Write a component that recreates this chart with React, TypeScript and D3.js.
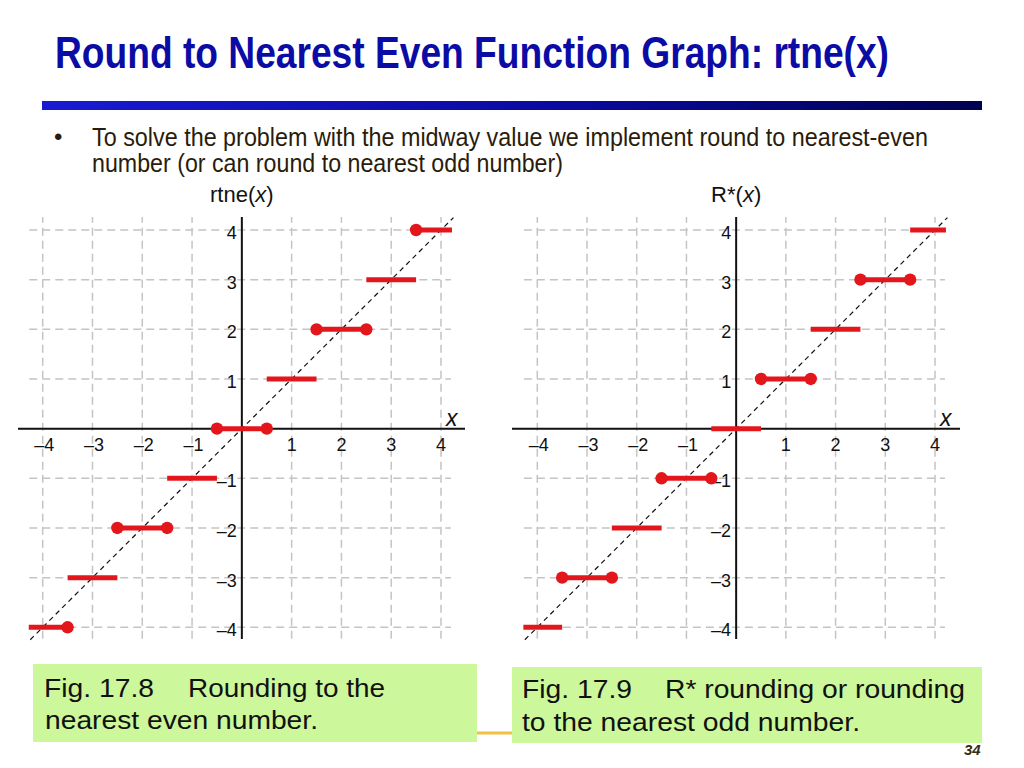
import React from "react";
import * as d3 from "d3";

// ---- data ----
const ticks = [-4, -3, -2, -1, 1, 2, 3, 4];
const gridValues = [-4, -3, -2, -1, 1, 2, 3, 4];
const stepLevels = [-4, -3, -2, -1, 0, 1, 2, 3, 4];
const stepStarts = [-4.28, -3.5, -2.5, -1.5, -0.5, 0.5, 1.5, 2.5, 3.5];
const stepEnds = [-3.5, -2.5, -1.5, -0.5, 0.5, 1.5, 2.5, 3.5, 4.22];
// closed-dot markers at segment start / end
const rtneDotStart = [false, false, true, false, true, false, true, false, true];
const rtneDotEnd = [true, false, true, false, true, false, true, false, false];
const rstarDotStart = [false, true, false, true, false, true, false, true, false];
const rstarDotEnd = [false, true, false, true, false, true, false, true, false];

const titleText = "Round to Nearest Even Function Graph: rtne(x)";
const bulletLines = [
  "To solve the problem with the midway value we implement round to nearest-even",
  "number (or can round to nearest odd number)",
];

const RED = "#e3161c";
const NARROW = "'Liberation Sans Narrow', 'Arial Narrow', 'Liberation Sans', Arial, sans-serif";
const SANS = "'Liberation Sans', Arial, sans-serif";

type PanelProps = {
  x0: number;
  x1: number;
  title: string;
  dotStart: boolean[];
  dotEnd: boolean[];
  axisLeft: number;
  axisRight: number;
};

function Panel({ x0, x1, title, dotStart, dotEnd, axisLeft, axisRight }: PanelProps) {
  const xs = d3.scaleLinear().domain([-4, 4]).range([x0, x1]);
  const ys = d3.scaleLinear().domain([-4, 4]).range([627.3, 230]);
  const ox = xs(0);
  const oy = ys(0);
  const diag = d3
    .line<number>()
    .x((d) => xs(d))
    .y((d) => ys(d));
  return (
    <g>
      {/* grid */}
      {gridValues.map((v) => (
        <line
          key={"v" + v}
          x1={xs(v)}
          x2={xs(v)}
          y1={ys(-4.23)}
          y2={ys(4.26)}
          stroke="#c4c4c4"
          strokeWidth={1.5}
          strokeDasharray="8,5"
        />
      ))}
      {gridValues.map((v) => (
        <line
          key={"h" + v}
          x1={xs(-4.27)}
          x2={xs(4.2)}
          y1={ys(v)}
          y2={ys(v)}
          stroke="#c4c4c4"
          strokeWidth={1.5}
          strokeDasharray="8,5"
        />
      ))}
      {/* axes */}
      <line x1={axisLeft} x2={axisRight} y1={oy} y2={oy} stroke="#111" strokeWidth={2} />
      <line x1={ox} x2={ox} y1={217} y2={639} stroke="#111" strokeWidth={2} />
      {/* diagonal */}
      <path d={diag([-4.25, 4.25]) || ""} stroke="#111" strokeWidth={1.2} strokeDasharray="5,4" fill="none" />
      {/* tick labels */}
      {ticks.map((t) => (
        <text
          key={"xt" + t}
          x={xs(t) + (t < 0 ? 1.5 : 0)}
          y={oy + 22}
          textAnchor="middle"
          fontFamily={SANS}
          fontSize={18}
          fill="#111"
        >
          {t < 0 ? "\u2013" + Math.abs(t) : String(t)}
        </text>
      ))}
      {ticks.map((t) => (
        <text
          key={"yt" + t}
          x={ox - 5}
          y={ys(t) + 9}
          textAnchor="end"
          fontFamily={SANS}
          fontSize={18}
          fill="#111"
        >
          {t < 0 ? "\u2013" + Math.abs(t) : String(t)}
        </text>
      ))}
      <text x={xs(4.1)} y={oy - 3} fontFamily={SANS} fontStyle="italic" fontSize={23} fill="#111">
        x
      </text>
      {/* steps */}
      {stepLevels.map((lv, i) => (
        <line
          key={"s" + lv}
          x1={xs(stepStarts[i])}
          x2={xs(stepEnds[i])}
          y1={ys(lv)}
          y2={ys(lv)}
          stroke={RED}
          strokeWidth={5}
        />
      ))}
      {stepLevels.map((lv, i) =>
        dotStart[i] ? <circle key={"ds" + lv} cx={xs(stepStarts[i])} cy={ys(lv)} r={6.2} fill={RED} /> : null
      )}
      {stepLevels.map((lv, i) =>
        dotEnd[i] ? <circle key={"de" + lv} cx={xs(stepEnds[i])} cy={ys(lv)} r={6.2} fill={RED} /> : null
      )}
      {/* panel title */}
      <text x={ox} y={202} textAnchor="middle" fontFamily={SANS} fontSize={22} fill="#111">
        {title}
        <tspan fontStyle="italic">x</tspan>)
      </text>
    </g>
  );
}

export default function App() {
  return (
    <svg
      width={1024}
      height={768}
      viewBox="0 0 1024 768"
      style={{ position: "absolute", left: 0, top: 0, background: "#fff" }}
    >
      <defs>
        <linearGradient id="barGrad" x1="0" x2="1" y1="0" y2="0">
          <stop offset="0%" stopColor="#1a1ad2" />
          <stop offset="55%" stopColor="#0a0aa0" />
          <stop offset="100%" stopColor="#000050" />
        </linearGradient>
      </defs>
      <rect x={0} y={0} width={1024} height={768} fill="#fff" />
      {/* slide title */}
      <text
        x={55}
        y={68}
        fontFamily={NARROW}
        fontWeight="bold"
        fontSize={44}
        fill="#0b0ba6"
        textLength={834}
        lengthAdjust="spacingAndGlyphs"
      >
        {titleText}
      </text>
      <rect x={42} y={101} width={940} height={9} fill="url(#barGrad)" />
      {/* bullet */}
      <text x={54} y={145} fontFamily={SANS} fontSize={24} fill="#2a1c0a">
        •
      </text>
      <text
        x={92}
        y={145.5}
        fontFamily={NARROW}
        fontSize={25.5}
        fill="#2a1c0a"
        textLength={836}
        lengthAdjust="spacingAndGlyphs"
      >
        {bulletLines[0]}
      </text>
      <text
        x={92}
        y={171.5}
        fontFamily={NARROW}
        fontSize={25.5}
        fill="#2a1c0a"
        textLength={471}
        lengthAdjust="spacingAndGlyphs"
      >
        {bulletLines[1]}
      </text>

      <Panel
        x0={42.7}
        x1={441}
        title="rtne("
        dotStart={rtneDotStart}
        dotEnd={rtneDotEnd}
        axisLeft={18}
        axisRight={465}
      />
      <Panel
        x0={537.3}
        x1={935}
        title="R*("
        dotStart={rstarDotStart}
        dotEnd={rstarDotEnd}
        axisLeft={512}
        axisRight={960}
      />

      {/* captions */}
      <line x1={470} x2={520} y1={733} y2={733} stroke="#f2c040" strokeWidth={3} />
      <rect x={33} y={664} width={444} height={78} fill="#ccf79b" />
      <rect x={512} y={667} width={470} height={76} fill="#ccf79b" />
      <text x={44} y={696.5} fontFamily={SANS} fontSize={26} fill="#111" textLength={110} lengthAdjust="spacingAndGlyphs">
        Fig. 17.8
      </text>
      <text x={188} y={696.5} fontFamily={SANS} fontSize={26} fill="#111" textLength={197} lengthAdjust="spacingAndGlyphs">
        Rounding to the
      </text>
      <text x={45} y={729} fontFamily={SANS} fontSize={26} fill="#111" textLength={273} lengthAdjust="spacingAndGlyphs">
        nearest even number.
      </text>
      <text x={522} y={698} fontFamily={SANS} fontSize={26} fill="#111" textLength={110} lengthAdjust="spacingAndGlyphs">
        Fig. 17.9
      </text>
      <text x={665} y={698} fontFamily={SANS} fontSize={26} fill="#111" textLength={300} lengthAdjust="spacingAndGlyphs">
        R* rounding or rounding
      </text>
      <text x={522} y={731} fontFamily={SANS} fontSize={26} fill="#111" textLength={338} lengthAdjust="spacingAndGlyphs">
        to the nearest odd number.
      </text>
      <text x={964} y={755} fontFamily={SANS} fontSize={15} fontWeight="bold" fontStyle="italic" fill="#3a2a12">
        34
      </text>
    </svg>
  );
}
